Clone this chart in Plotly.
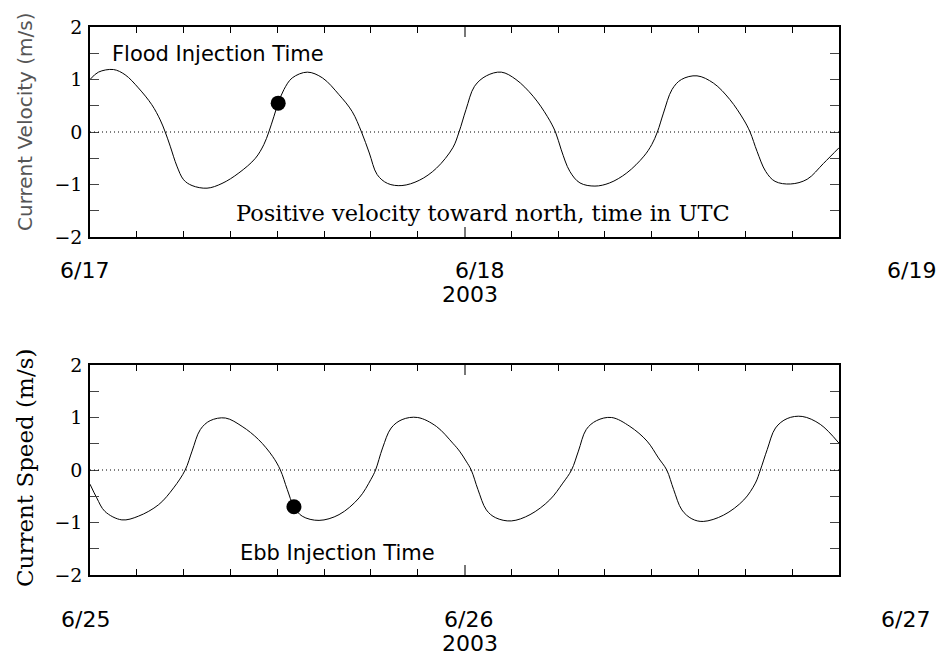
import pandas as pd
import plotly.graph_objects as go

W, H = 948, 657

# ---- Tidal current series (hours after midnight of the first day, m/s) ----
flood_hours = [0, 0.54, 1.5, 2.25, 3.1, 3.96, 4.5, 4.82, 5.14, 5.57, 6.0, 6.54, 7.5,
               8.46, 9.54, 10.6, 11.14, 11.46, 11.79, 12.06, 12.43, 12.96, 13.93,
               14.9, 15.96, 16.8, 17.4, 17.9, 18.4, 19.07, 19.99, 21.1, 22.2, 23.25,
               23.65, 24.1, 24.64, 25.4, 26.36, 27.3, 28.4, 29.3, 29.83, 30.2, 30.75,
               31.4, 32.36, 33.3, 34.4, 35.5, 36.0, 36.36, 36.75, 37.3, 37.9, 38.9,
               39.96, 41.0, 41.9, 42.3, 42.75, 43.3, 43.9, 44.9, 45.96, 47.0, 48.0]
flood_velocity = [1.00, 1.14, 1.19, 1.09, 0.84, 0.52, 0.23, 0.00, -0.27, -0.65, -0.91,
                  -1.02, -1.07, -0.98, -0.78, -0.50, -0.24, 0.00, 0.30, 0.55, 0.81,
                  1.03, 1.14, 1.03, 0.71, 0.39, 0.00, -0.40, -0.81, -0.98, -1.02,
                  -0.92, -0.69, -0.30, 0.00, 0.43, 0.87, 1.07, 1.14, 1.00, 0.68, 0.30,
                  0.00, -0.34, -0.75, -0.97, -1.03, -0.97, -0.78, -0.46, -0.24, 0.00,
                  0.36, 0.81, 1.00, 1.07, 0.93, 0.62, 0.23, 0.00, -0.37, -0.75, -0.94,
                  -0.99, -0.90, -0.60, -0.30]

ebb_hours = [0, 0.43, 0.96, 2.04, 3.1, 4.4, 5.36, 6.1, 6.54, 7.07, 7.7, 8.68, 9.75,
             10.8, 11.7, 12.2, 12.64, 13.07, 13.6, 14.68, 15.96, 17.25, 18.0, 18.3,
             18.75, 19.3, 20.0, 21.0, 22.2, 23.25, 23.68, 24.1, 24.43, 24.86, 25.4,
             26.0, 27.0, 28.2, 29.46, 30.3, 30.86, 31.3, 31.8, 32.46, 33.43, 34.6,
             35.7, 36.43, 36.96, 37.4, 37.93, 38.57, 39.3, 40.6, 41.9, 42.64, 42.96,
             43.4, 43.93, 44.68, 45.64, 46.8, 48.0]
ebb_speed = [-0.27, -0.53, -0.79, -0.95, -0.88, -0.66, -0.34, 0.00, 0.36, 0.77, 0.94,
             0.99, 0.83, 0.58, 0.26, 0.00, -0.37, -0.70, -0.88, -0.96, -0.85, -0.53,
             -0.18, 0.00, 0.42, 0.80, 0.96, 1.00, 0.83, 0.51, 0.36, 0.17, 0.00, -0.37,
             -0.76, -0.91, -0.97, -0.85, -0.57, -0.25, 0.00, 0.36, 0.77, 0.94, 1.00,
             0.83, 0.55, 0.23, 0.00, -0.37, -0.76, -0.93, -0.98, -0.86, -0.57, -0.25,
             0.00, 0.39, 0.80, 0.98, 1.02, 0.87, 0.51]

# Injection events (hours, m/s)
flood_injection = (12.06, 0.55)
ebb_injection = (13.07, -0.70)

flood_start = pd.Timestamp("2003-06-17")
ebb_start = pd.Timestamp("2003-06-25")

y_ticks = [-2, -1, 0, 1, 2]
flood_dates = ["6/17", "6/18", "6/19"]
ebb_dates = ["6/25", "6/26", "6/27"]
year_label = "2003"


def to_time(start, hours):
    return start + pd.to_timedelta(pd.Series(hours, dtype=float), unit="h")


SANS = "DejaVu Sans"
SERIF = "DejaVu Serif"

fig = go.Figure()

fig.add_trace(go.Scatter(
    x=to_time(flood_start, flood_hours), y=flood_velocity, mode="lines",
    line=dict(color="black", width=1, shape="spline", smoothing=1.0),
    xaxis="x", yaxis="y", showlegend=False, hoverinfo="skip"))
fig.add_trace(go.Scatter(
    x=to_time(flood_start, [flood_injection[0]]), y=[flood_injection[1]],
    mode="markers", marker=dict(color="black", size=15),
    xaxis="x", yaxis="y", showlegend=False))

fig.add_trace(go.Scatter(
    x=to_time(ebb_start, ebb_hours), y=ebb_speed, mode="lines",
    line=dict(color="black", width=1, shape="spline", smoothing=1.0),
    xaxis="x2", yaxis="y2", showlegend=False, hoverinfo="skip"))
fig.add_trace(go.Scatter(
    x=to_time(ebb_start, [ebb_injection[0]]), y=[ebb_injection[1]],
    mode="markers", marker=dict(color="black", size=15),
    xaxis="x2", yaxis="y2", showlegend=False))

x_dom = [90 / W, 839 / W]
top_dom = [1 - 237 / H, 1 - 27 / H]
bot_dom = [1 - 575 / H, 1 - 365 / H]

three_hours = 3 * 3600 * 1000
one_day = 24 * 3600 * 1000


def x_axis(start, domain, anchor):
    return dict(
        type="date", domain=domain, anchor=anchor, automargin=False,
        range=[start, start + pd.Timedelta(days=2)],
        showgrid=False, zeroline=False, showticklabels=False,
        showline=True, linecolor="black", linewidth=1.5, mirror="ticks",
        ticks="inside", tick0=start, dtick=one_day, ticklen=10, tickwidth=1.5,
        tickcolor="#777777",
        minor=dict(ticks="inside", dtick=three_hours, tick0=start, ticklen=6,
                   tickwidth=1, tickcolor="black", showgrid=False),
    )


def y_axis(domain, anchor):
    return dict(
        domain=domain, anchor=anchor, range=[-2, 2], automargin=False,
        tickmode="array", tickvals=y_ticks,
        ticktext=[str(v).replace("-", "\u2212") for v in y_ticks],
        showgrid=False, zeroline=False,
        showline=True, linecolor="black", linewidth=1.5, mirror="ticks",
        ticks="inside", ticklen=9, tickwidth=1.2, tickcolor="#444444",
        tickfont=dict(family=SERIF, size=19, color="black"),
        ticklabelstandoff=2,
        minor=dict(ticks="inside", tickvals=[-1.5, -0.5, 0.5, 1.5], ticklen=9,
                   tickwidth=1.2, tickcolor="#444444", showgrid=False),
    )


fig.update_layout(
    width=W, height=H,
    margin=dict(l=0, r=0, t=0, b=0, pad=0, autoexpand=False),
    paper_bgcolor="white", plot_bgcolor="white",
    xaxis=x_axis(flood_start, x_dom, "y"),
    yaxis=y_axis(top_dom, "x"),
    xaxis2=x_axis(ebb_start, x_dom, "y2"),
    yaxis2=y_axis(bot_dom, "x2"),
)

# dotted zero reference lines
for xr, yr in (("x", "y"), ("x2", "y2")):
    fig.add_shape(type="line", xref=f"{xr} domain", yref=yr, x0=0, x1=1, y0=0, y1=0,
                  line=dict(color="black", width=1, dash="1px,3px"))


def label(text, px, py, family, size, color="black", angle=0):
    fig.add_annotation(text=text, xref="paper", yref="paper", x=px / W, y=1 - py / H,
                       xanchor="center", yanchor="middle", showarrow=False,
                       textangle=angle, font=dict(family=family, size=size, color=color))


# date labels under each panel
for txt, px in zip(flood_dates, (84, 479, 911)):
    label(txt, px, 270, SANS, 22)
label(year_label, 470, 295, SANS, 22)
for txt, px in zip(ebb_dates, (85, 468, 905)):
    label(txt, px, 619, SANS, 22)
label(year_label, 470, 643, SANS, 22)

# axis titles
label("Current Velocity (m/s)", 25, 122, SANS, 20, color="#555555", angle=-90)
label("Current Speed (m/s)", 25, 468, SERIF, 23, angle=-90)

# in-panel notes
label("Flood Injection Time", 218, 54, SANS, 21)
label("Positive velocity toward north, time in UTC", 483, 213, SERIF, 22.5)
label("Ebb Injection Time", 337, 553, SANS, 21)

fig.write_html("out.html")
